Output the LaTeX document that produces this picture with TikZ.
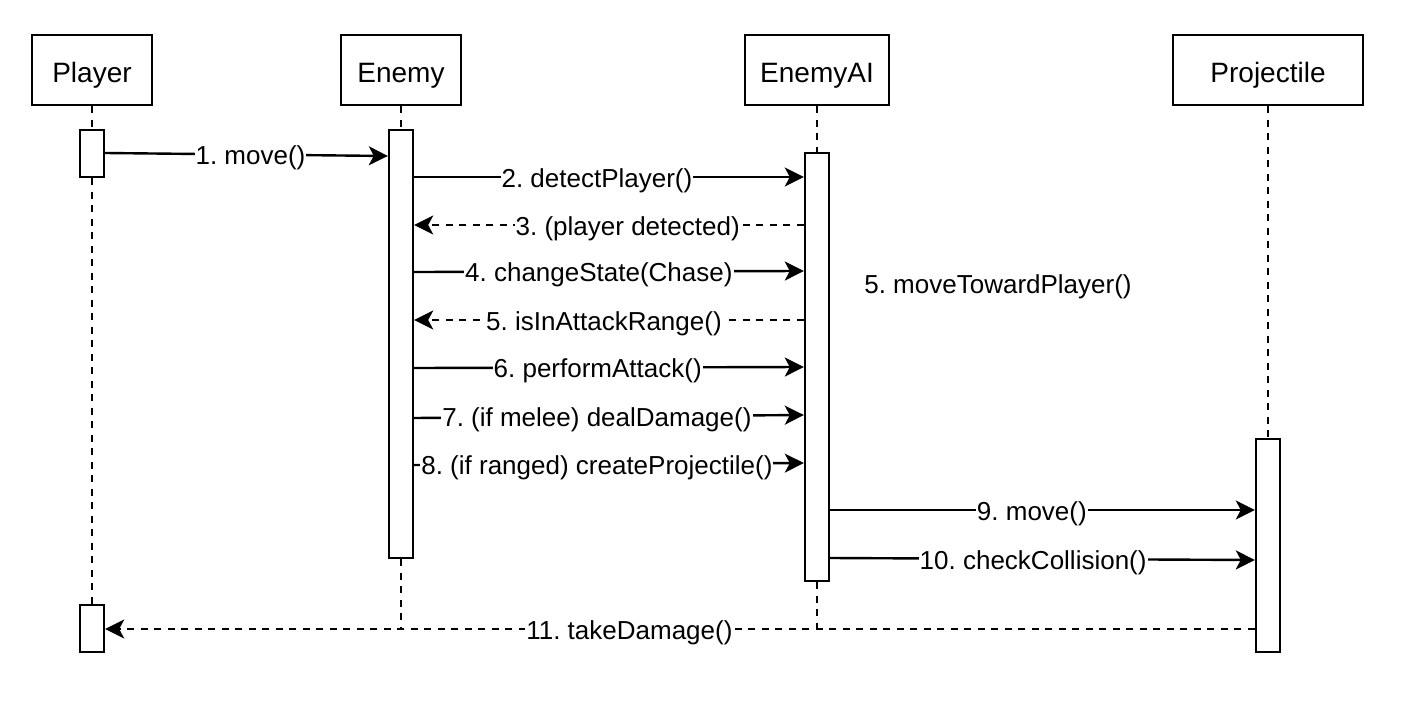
\documentclass[tikz,border=0pt]{standalone}
\usepackage{fontspec}
\setmainfont{Liberation Sans}
\usetikzlibrary{arrows.meta}
\frenchspacing
\begin{document}
\begin{tikzpicture}[x=1pt,y=-1pt,
  lw/.style={line width=2.4pt},
  head/.style={draw, lw, rectangle, minimum height=70pt, inner sep=0pt, text height=24pt, text depth=0pt, font=\fontsize{28}{34}\selectfont},
  bar/.style={draw, lw, fill=white, minimum width=24pt, inner sep=0pt},
  life/.style={lw, dash pattern=on 7pt off 6.5pt},
  msg/.style={lw, -{Stealth[length=19pt,width=19pt,inset=5pt]}},
  ret/.style={msg, dash pattern=on 7pt off 6.5pt},
  lbl/.style={fill=white, inner xsep=1pt, inner ysep=2pt, text height=20.6pt, text depth=0pt, font=\fontsize{26}{31}\selectfont},
]
\useasboundingbox[fill=white] (0,0) rectangle (1401,701);

% headers
\node[head, minimum width=120pt] (hp) at (92,70) {Player};
\node[head, minimum width=120pt] (he) at (401,70) {Enemy};
\node[head, minimum width=144pt] (ha) at (817,70) {EnemyAI};
\node[head, minimum width=190pt] (hj) at (1268,70) {Projectile};

% activation bars
\node[bar, minimum height=47pt] (pb1) at (92,153.5) {};
\node[bar, minimum height=47pt] (pb2) at (92,628.5) {};
\node[bar, minimum height=428pt] (eb) at (401,344) {};
\node[bar, minimum height=428pt] (ab) at (817,367) {};
\node[bar, minimum height=213pt] (jb) at (1268,545.5) {};

\coordinate (eend) at (401,629);
\coordinate (aend) at (817,629);

% lifelines
\draw[life] (hp.south) -- (pb1.north);
\draw[life] (pb1.south) -- (pb2.north);
\draw[life] (he.south) -- (eb.north);
\draw[life] (eb.south) -- (eend);
\draw[life] (ha.south) -- (ab.north);
\draw[life] (ab.south) -- (aend);
\draw[life] (hj.south) -- (jb.north);

% messages
\draw[msg] (pb1.east |- 0,153) -- (eb.west |- 0,156) node[lbl,pos=0.514] {1. move()};
\draw[msg] (eb.east |- 0,177) -- (ab.west |- 0,177) node[lbl,pos=0.469] {2. detectPlayer()};
\draw[ret] (ab.west |- 0,225) -- (eb.east |- 0,225) node[lbl,pos=0.452] {3. (player detected)};
\draw[msg] (eb.east |- 0,272) -- (ab.west |- 0,271) node[lbl,pos=0.474] {4. changeState(Chase)};
\draw[ret] (ab.west |- 0,320) -- (eb.east |- 0,320) node[lbl,pos=0.513] {5. isInAttackRange()};
\draw[msg] (eb.east |- 0,368) -- (ab.west |- 0,367) node[lbl,pos=0.471] {6. performAttack()};
\draw[msg] (eb.east |- 0,418) -- (ab.west |- 0,415) node[lbl,pos=0.469] {7. (if melee) dealDamage()};
\draw[msg] (eb.east |- 0,465) -- (ab.west |- 0,463) node[lbl,pos=0.469] {8. (if ranged) createProjectile()};
\draw[msg] (ab.east |- 0,510) -- (jb.west |- 0,510) node[lbl,pos=0.475] {9. move()};
\draw[msg] (ab.east |- 0,558) -- (jb.west |- 0,560) node[lbl,pos=0.478] {10. checkCollision()};
\draw[ret] (jb.west |- 0,629) -- (pb2.east |- 0,629) node[lbl,pos=0.544] {11. takeDamage()};

% free text
\node[lbl, fill=none] (t5) at (998,283) {5. moveTowardPlayer()};
\end{tikzpicture}
\end{document}
